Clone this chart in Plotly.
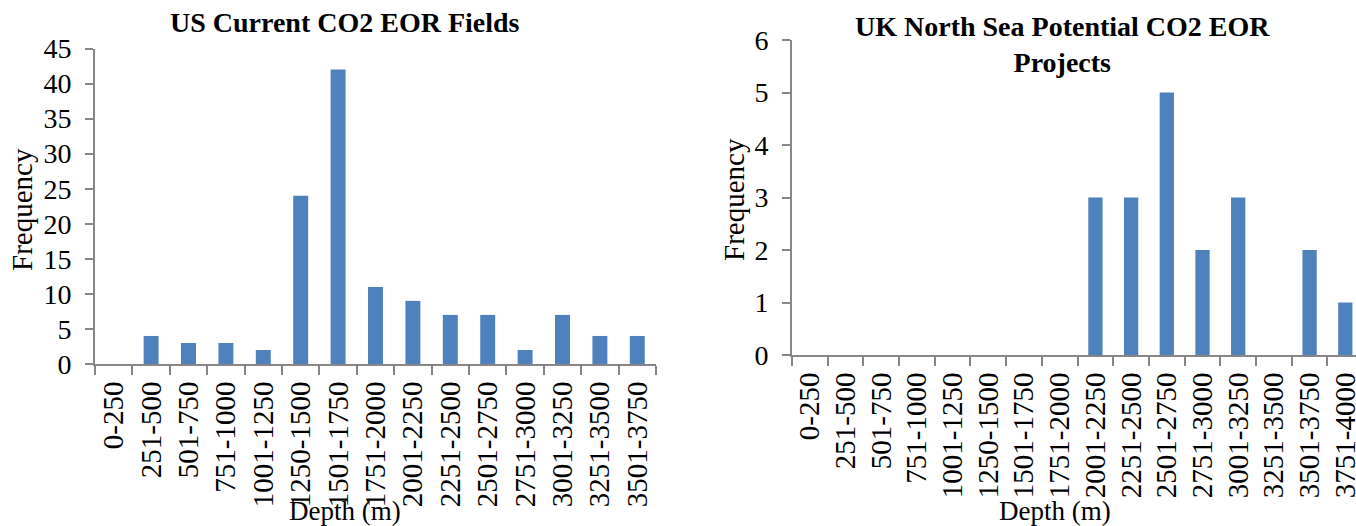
import plotly.graph_objects as go

W, H = 1356, 526

us_categories = ["0-250", "251-500", "501-750", "751-1000", "1001-1250", "1250-1500",
                 "1501-1750", "1751-2000", "2001-2250", "2251-2500", "2501-2750",
                 "2751-3000", "3001-3250", "3251-3500", "3501-3750"]
us_values = [0, 4, 3, 3, 2, 24, 42, 11, 9, 7, 7, 2, 7, 4, 4]

uk_categories = ["0-250", "251-500", "501-750", "751-1000", "1001-1250", "1250-1500",
                 "1501-1750", "1751-2000", "2001-2250", "2251-2500", "2501-2750",
                 "2751-3000", "3001-3250", "3251-3500", "3501-3750", "3751-4000"]
uk_values = [0, 0, 0, 0, 0, 0, 0, 0, 3, 3, 5, 2, 3, 0, 2, 1]

us_title = "US Current CO2 EOR Fields"
uk_title = "UK North Sea Potential CO2 EOR<br>Projects"
x_title = "Depth (m)"
y_title = "Frequency"

BAR = "#4F81BD"
AXIS = "#868686"
FONT = "Liberation Serif"


def px_x(v):
    return v / W


def px_y(v):
    return 1 - v / H


fig = go.Figure()
fig.add_trace(go.Bar(x=us_categories, y=us_values, marker=dict(color=BAR, line=dict(width=0)),
                     xaxis="x", yaxis="y", showlegend=False))
fig.add_trace(go.Bar(x=uk_categories, y=uk_values, marker=dict(color=BAR, line=dict(width=0)),
                     xaxis="x2", yaxis="y2", showlegend=False))

xtickfont = dict(family=FONT, size=29, color="black")
ytickfont = dict(family=FONT, size=28, color="black")
common_x = dict(type="category", showline=True, linecolor=AXIS, linewidth=2, ticks="outside",
                tickson="boundaries", ticklen=9, tickcolor=AXIS, tickwidth=2, tickangle=-90,
                tickfont=xtickfont, showgrid=False, zeroline=False, automargin=False,
                ticklabelstandoff=4)
common_y = dict(showline=True, linecolor=AXIS, linewidth=2, ticks="outside", ticklen=8,
                tickcolor=AXIS, tickwidth=2, tickfont=ytickfont, showgrid=False, zeroline=False,
                automargin=False, ticklabelstandoff=8)

fig.update_layout(
    width=W, height=H, autosize=False,
    margin=dict(l=0, r=0, t=0, b=0, autoexpand=False),
    paper_bgcolor="white", plot_bgcolor="white",
    bargap=0.6,
    xaxis=dict(common_x, domain=[px_x(95), px_x(656)], anchor="y",
               categoryorder="array", categoryarray=us_categories, range=[-0.5, 14.5]),
    yaxis=dict(common_y, domain=[px_y(364), px_y(48.5)], anchor="x", range=[0, 45], dtick=5),
    xaxis2=dict(common_x, domain=[px_x(792), 1.0], anchor="y2",
                categoryorder="array", categoryarray=uk_categories, range=[-0.5, 15.3]),
    yaxis2=dict(common_y, domain=[px_y(355), px_y(40)], anchor="x2", range=[0, 6], dtick=1),
)

annots = [
    dict(text="<b>" + us_title + "</b>", x=px_x(345), y=px_y(23), font=dict(family=FONT, size=28, color="black")),
    dict(text="<b>" + uk_title.replace("<br>", "</b><br><b>") + "</b>", x=px_x(1062), y=px_y(44),
         font=dict(family=FONT, size=28, color="black")),
    dict(text=x_title, x=px_x(345), y=px_y(511), font=dict(family=FONT, size=27, color="black")),
    dict(text=x_title, x=px_x(1055), y=px_y(511), font=dict(family=FONT, size=27, color="black")),
    dict(text=y_title, x=px_x(22), y=px_y(210), textangle=-90, font=dict(family=FONT, size=29, color="black")),
    dict(text=y_title, x=px_x(734), y=px_y(200), textangle=-90, font=dict(family=FONT, size=29, color="black")),
]
for a in annots:
    fig.add_annotation(xref="paper", yref="paper", showarrow=False, xanchor="center", yanchor="middle", **a)

fig.write_html("out.html", config={"displayModeBar": False},
               post_script="document.body.style.margin='0';document.body.style.overflow='hidden';")
